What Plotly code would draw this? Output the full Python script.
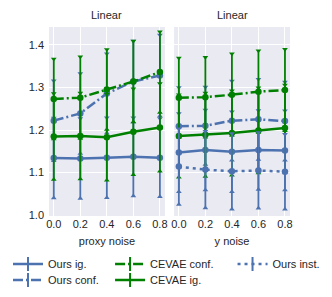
import plotly.graph_objects as go
from plotly.subplots import make_subplots

noise = [0.0, 0.2, 0.4, 0.6, 0.8]
noise_labels = ["0.0", "0.2", "0.4", "0.6", "0.8"]
y_ticks = [1.0, 1.1, 1.2, 1.3, 1.4]
y_tick_labels = ["1.0", "1.1", "1.2", "1.3", "1.4"]

# Left panel: proxy noise
proxy_ours_ig = [1.134, 1.133, 1.135, 1.137, 1.135]
proxy_ours_ig_err = [0.094, 0.094, 0.094, 0.092, 0.092]
proxy_ours_conf = [1.222, 1.239, 1.286, 1.314, 1.328]
proxy_ours_conf_err = [0.094, 0.094, 0.093, 0.095, 0.095]
proxy_cevae_conf = [1.273, 1.276, 1.295, 1.314, 1.336]
proxy_cevae_conf_err = [0.094, 0.096, 0.094, 0.095, 0.095]
proxy_cevae_ig = [1.185, 1.186, 1.183, 1.196, 1.206]
proxy_cevae_ig_err = [0.101, 0.101, 0.101, 0.101, 0.103]

# Right panel: y noise
y_ours_ig = [1.147, 1.153, 1.149, 1.153, 1.152]
y_ours_ig_err = [0.092, 0.094, 0.094, 0.093, 0.093]
y_ours_conf = [1.209, 1.210, 1.222, 1.225, 1.221]
y_ours_conf_err = [0.091, 0.091, 0.093, 0.094, 0.092]
y_cevae_conf = [1.276, 1.277, 1.283, 1.290, 1.294]
y_cevae_conf_err = [0.093, 0.094, 0.096, 0.096, 0.096]
y_cevae_ig = [1.186, 1.189, 1.193, 1.199, 1.205]
y_cevae_ig_err = [0.097, 0.098, 0.099, 0.100, 0.101]
y_ours_inst = [1.114, 1.107, 1.103, 1.105, 1.102]
y_ours_inst_err = [0.089, 0.090, 0.089, 0.089, 0.088]

BLUE = "#4C72B0"
GREEN = "#008000"
DASHDOT = "10px,3px,2px,3px"
DOT = "3px,4px"

series_left = [
    ("Ours ig.", proxy_ours_ig, proxy_ours_ig_err, BLUE, "solid"),
    ("Ours conf.", proxy_ours_conf, proxy_ours_conf_err, BLUE, DASHDOT),
    ("CEVAE conf.", proxy_cevae_conf, proxy_cevae_conf_err, GREEN, DASHDOT),
    ("CEVAE ig.", proxy_cevae_ig, proxy_cevae_ig_err, GREEN, "solid"),
]
series_right = [
    ("Ours ig.", y_ours_ig, y_ours_ig_err, BLUE, "solid"),
    ("Ours conf.", y_ours_conf, y_ours_conf_err, BLUE, DASHDOT),
    ("CEVAE conf.", y_cevae_conf, y_cevae_conf_err, GREEN, DASHDOT),
    ("CEVAE ig.", y_cevae_ig, y_cevae_ig_err, GREEN, "solid"),
    ("Ours inst.", y_ours_inst, y_ours_inst_err, BLUE, DOT),
]

fig = make_subplots(rows=1, cols=2, shared_yaxes=True, horizontal_spacing=0.038)

def add_series(col, name, vals, errs, color, dash):
    fig.add_trace(go.Scatter(
        x=noise, y=vals, mode="lines+markers", name=name, showlegend=False,
        line=dict(color=color, width=2.5, dash=dash),
        marker=dict(color=color, size=6.5),
        error_y=dict(type="data", array=errs, visible=True, color=color,
                     thickness=1.8, width=0),
    ), row=1, col=col)
    fig.add_trace(go.Scatter(
        x=noise, y=[v + e for v, e in zip(vals, errs)], mode="markers",
        showlegend=False, hoverinfo="skip",
        marker=dict(color=color, size=5, symbol="triangle-down"),
    ), row=1, col=col)
    fig.add_trace(go.Scatter(
        x=noise, y=[v - e for v, e in zip(vals, errs)], mode="markers",
        showlegend=False, hoverinfo="skip",
        marker=dict(color=color, size=5, symbol="triangle-up"),
    ), row=1, col=col)

for s in series_left:
    add_series(1, *s)
for s in series_right:
    add_series(2, *s)

FONT = "Liberation Sans, Arial, sans-serif"
TXT = "#262626"

# legend entries: one small legend per entry, laid out in 3 columns x 2 rows
legend_entries = [
    ("Ours ig.", BLUE, "solid", 0.0, 0.1142),
    ("Ours conf.", BLUE, DASHDOT, 0.0, 0.0588),
    ("CEVAE conf.", GREEN, DASHDOT, 0.315, 0.1142),
    ("CEVAE ig.", GREEN, "solid", 0.315, 0.0588),
    ("Ours inst.", BLUE, DOT, 0.693, 0.1142),
]
legend_layouts = {}
for k, (name, color, dash, lx, ly) in enumerate(legend_entries):
    lname = "legend" if k == 0 else f"legend{k + 1}"
    fig.add_trace(go.Scatter(
        x=[None], y=[None], mode="lines+markers", name=name, legend=lname,
        line=dict(color=color, width=2.5, dash=dash),
        marker=dict(symbol="line-ns-open", size=10, color=color,
                    line=dict(width=2, color=color)),
    ), row=1, col=1)
    legend_layouts[lname] = dict(
        xref="container", yref="container", x=lx, y=ly,
        xanchor="left", yanchor="middle", itemwidth=30,
        font=dict(size=11, color=TXT, family=FONT),
        bgcolor="rgba(0,0,0,0)", borderwidth=0,
    )

axis_common = dict(
    showgrid=True, gridcolor="white", gridwidth=1.3, zeroline=False,
    showline=False, ticks="", tickfont=dict(size=11, color=TXT, family=FONT),
)
fig.update_xaxes(**axis_common, range=[-0.036, 0.838], tickvals=noise,
                 ticktext=noise_labels)
fig.update_yaxes(**axis_common, range=[0.998, 1.442],
                 tickvals=y_ticks, ticktext=y_tick_labels)
fig.update_yaxes(ticklabelstandoff=4, row=1, col=1)
fig.update_xaxes(title=dict(text="proxy noise", font=dict(size=11, color=TXT, family=FONT), standoff=8), row=1, col=1)
fig.update_xaxes(title=dict(text="y noise", font=dict(size=11, color=TXT, family=FONT), standoff=8), row=1, col=2)

for xd in ["x domain", "x2 domain"]:
    fig.add_annotation(text="Linear", xref=xd, yref="paper", x=0.5, y=1.0,
                       yanchor="bottom", yshift=4, showarrow=False,
                       font=dict(size=11, color=TXT, family=FONT))

# page body adds an 8px offset; figure is sized to fill the rest of the window
fig.update_layout(
    width=324, height=289,
    margin=dict(l=41, r=42, t=19, b=81, autoexpand=False),
    paper_bgcolor="white", plot_bgcolor="#EAEAF2",
    font=dict(family=FONT, size=11, color=TXT),
    **legend_layouts,
)

fig.write_html("out.html")
